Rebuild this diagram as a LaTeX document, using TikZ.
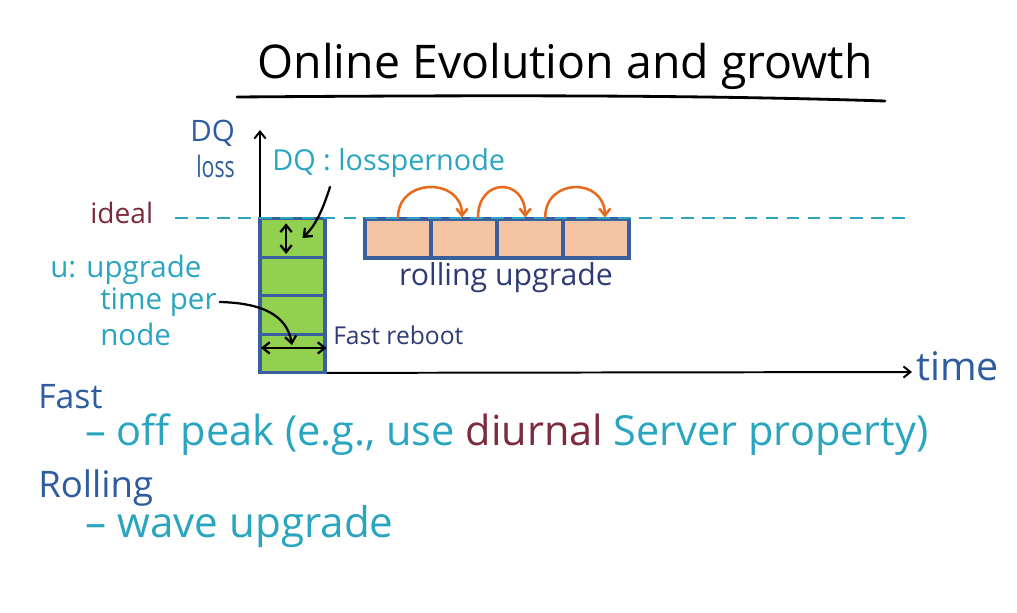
\documentclass[tikz,border=0pt]{standalone}
\usepackage{fontspec}
\setmainfont{Open Sans}
\usetikzlibrary{arrows.meta}
\definecolor{dqblue}{HTML}{2E5C9E}
\definecolor{noteteal}{HTML}{2AA5C0}
\definecolor{wine}{HTML}{7B2B3C}
\definecolor{navy}{HTML}{2F3A75}
\definecolor{cellgreen}{HTML}{92D050}
\definecolor{cellpeach}{HTML}{F5C4A5}
\definecolor{cellborder}{HTML}{3A5F9E}
\definecolor{arcorange}{HTML}{E86A1E}
\newcommand{\fsz}[1]{\fontsize{#1}{#1}\selectfont}

\begin{document}
\begin{tikzpicture}[x=0.025cm, y=-0.025cm, >={Straight Barb[length=5pt,width=8pt]},
  upcell/.style={draw=cellborder, line width=2.2pt, minimum width=1.625cm, minimum height=0.96cm, inner sep=0pt},
  peachcell/.style={upcell, fill=cellpeach, minimum width=1.65cm, minimum height=0.975cm},
  hand/.style={line width=1.6pt, line cap=round},
  hop/.style={->, arcorange, line width=1.8pt, line cap=round},
  txt/.style={anchor=west, inner sep=0pt}]
  \useasboundingbox (0,0) rectangle (1017,612);

  % title
  \node[font=\fsz{33}] (title) at (565,66) {Online Evolution and growth};
  \draw[line width=2pt, line cap=round] (237,97) .. controls (500,95) and (700,95) .. (885,101);

  % axes
  \coordinate (origin) at (260,373);
  \coordinate (ytip) at (260,130);
  \coordinate (xtip) at (912,372);
  \draw[->, line width=1.4pt] (origin) -- (ytip);
  \draw[->, line width=1.4pt] (origin) -- (xtip);
  \node[txt, text=dqblue, font=\fsz{28}] (time) at (916,366) {time};
  \node[txt, text=dqblue, font=\fsz{21}] (dq) at (190,133) {DQ};
  \node[txt, text=dqblue, font=\fsz{21}] (loss) at (196,166) {\scalebox{0.72}[1]{loss}};
  \node[txt, text=wine, font=\fsz{20}] (ideal) at (90,213) {ideal};

  % fast reboot stack
  \foreach \i in {0,...,3}
    \node[upcell, fill=cellgreen] (g\i) at (292.5,{238+38.5*\i}) {};

  % rolling upgrade row
  \foreach \i in {0,...,3}
    \node[peachcell] (p\i) at ({398+66*\i},238.5) {};

  \draw[noteteal, line width=1.6pt, dash pattern=on 9pt off 6pt] (175,218) -- (912,218);

  \foreach \a/\b/\s/\e in {p0/p1/0/-0.05, p1/p2/0.35/-0.12, p2/p3/0.38/0.22}
    \draw[hop] ([xshift=\s cm]\a.north) .. controls +(0,-40) and +(0,-40) .. ([xshift=\e cm]\b.north);

  % labels
  \node[txt, text=noteteal, font=\fsz{20.5}] (dqlabel) at (272,163) {DQ : losspernode};
  \coordinate (dqtail) at (330,187);
  \draw[hand, ->] (dqtail) .. controls (322,212) and (315,226) .. ([xshift=0.25cm]g0.center);
  \draw[hand, <->] ([xshift=-0.16cm,yshift=-0.15cm]g0.north) -- ([xshift=-0.16cm,yshift=0.12cm]g0.south);

  \node[txt, text=noteteal, font=\fsz{21}] (uup) at (50,270) {u: upgrade};
  \node[txt, text=noteteal, font=\fsz{21}] (timeper) at (100,302) {time per};
  \node[txt, text=noteteal, font=\fsz{21}] (pernode) at (100,334) {node};
  \draw[hand, ->] ([xshift=2pt]timeper.east) .. controls (262,303) and (287,315) .. (292,345);
  \draw[hand, <->] ([xshift=0.06cm,yshift=0.14cm]g3.west) -- ([yshift=0.14cm]g3.east);

  \node[txt, text=navy, font=\fsz{17.5}] (reboot) at (333,335) {Fast reboot};
  \node[text=navy, font=\fsz{21.5}] (rolling) at (506,278) {rolling upgrade};

  % notes below
  \node[txt, text=dqblue, font=\fsz{24}] (fast) at (38,397) {Fast};
  \node[txt, text=noteteal, font=\fsz{29.5}] (offpeak) at (85,435)
    {– off peak (e.g., use \textcolor{wine}{diurnal} Server property)};
  \node[txt, text=dqblue, font=\fsz{26}] (roll) at (38,488) {Rolling};
  \node[txt, text=noteteal, font=\fsz{30}] (wave) at (85,527) {– wave upgrade};
\end{tikzpicture}
\end{document}
